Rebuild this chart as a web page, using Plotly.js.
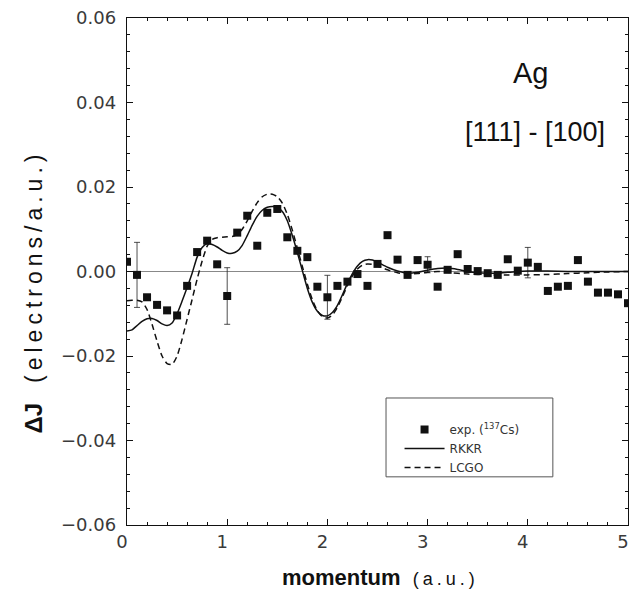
<!DOCTYPE html>
<html>
<head>
<meta charset="utf-8">
<script src="https://cdn.plot.ly/plotly-3.0.1.min.js"></script>
<style>html,body{margin:0;padding:0;background:#fff;}#chart{width:631px;height:590px;}</style>
</head>
<body>
<div id="chart"></div>
<script>
// Experimental points (momentum in a.u., ΔJ in electrons/a.u.)
var expX = [0.0,0.1,0.2,0.3,0.4,0.5,0.6,0.7,0.8,0.9,1.0,1.1,1.2,1.3,1.4,1.5,1.6,1.7,1.8,1.9,2.0,2.1,2.2,2.3,2.4,2.5,2.6,2.7,2.8,2.9,3.0,3.1,3.2,3.3,3.4,3.5,3.6,3.7,3.8,3.9,4.0,4.1,4.2,4.3,4.4,4.5,4.6,4.7,4.8,4.9,5.0];
var expY = [0.0023,-0.0008,-0.0061,-0.0079,-0.0092,-0.0104,-0.0034,0.0046,0.0073,0.0017,-0.0058,0.0092,0.0132,0.0061,0.0139,0.0148,0.0081,0.0049,0.0034,-0.0036,-0.0061,-0.0034,-0.0024,-0.0006,-0.0034,0.0018,0.0086,0.0028,-0.0008,0.0027,0.0016,-0.0036,0.0004,0.0041,0.0006,0.0001,-0.0004,-0.0008,0.0029,0.0002,0.0021,0.0011,-0.0046,-0.0036,-0.0034,0.0027,-0.0024,-0.0050,-0.0050,-0.0054,-0.0075];
// Error bars given at selected momenta
var errX = [0.1, 1.0, 2.0, 3.0, 4.0];
var errVal = [0.0077, 0.0067, 0.0052, 0.0019, 0.0036];

// RKKR theory (solid)
var rkkrX = [0.00,0.05,0.10,0.15,0.20,0.25,0.30,0.35,0.40,0.45,0.50,0.55,0.60,0.65,0.70,0.75,0.80,0.85,0.90,0.95,1.00,1.05,1.10,1.15,1.20,1.25,1.30,1.35,1.40,1.45,1.50,1.55,1.60,1.65,1.70,1.75,1.80,1.85,1.90,1.95,2.00,2.05,2.10,2.15,2.20,2.25,2.30,2.35,2.40,2.45,2.50,2.60,2.70,2.80,2.90,3.00,3.10,3.20,3.30,3.40,3.50,3.60,3.70,3.80,3.90,4.00,4.20,4.40,4.60,4.80,5.00];
var rkkrY = [-0.0141,-0.0138,-0.0128,-0.0118,-0.0112,-0.0111,-0.0116,-0.0124,-0.0128,-0.0122,-0.0100,-0.0070,-0.0038,-0.0004,0.0034,0.0057,0.0066,0.0064,0.0058,0.0050,0.0044,0.0043,0.0048,0.0062,0.0085,0.0110,0.0131,0.0145,0.0152,0.0154,0.0152,0.0142,0.0120,0.0085,0.0045,0.0002,-0.0040,-0.0073,-0.0094,-0.0104,-0.0105,-0.0097,-0.0080,-0.0055,-0.0028,-0.0005,0.0013,0.0024,0.0028,0.0027,0.0022,0.0010,0.0001,-0.0004,-0.0002,0.0003,0.0007,0.0008,0.0005,0.0000,-0.0003,-0.0004,-0.0004,-0.0002,0.0000,0.0001,0.0001,0.0000,0.0000,0.0000,0.0000];

// LCGO theory (dashed)
var lcgoX = [0.00,0.05,0.10,0.15,0.20,0.25,0.30,0.35,0.40,0.45,0.50,0.55,0.60,0.65,0.70,0.75,0.80,0.85,0.90,0.95,1.00,1.05,1.10,1.15,1.20,1.25,1.30,1.35,1.40,1.45,1.50,1.55,1.60,1.65,1.70,1.75,1.80,1.85,1.90,1.95,2.00,2.05,2.10,2.15,2.20,2.25,2.30,2.35,2.40,2.45,2.50,2.60,2.70,2.80,2.90,3.00,3.10,3.20,3.40,3.60,3.80,4.00,4.20,4.40,4.60,4.80,5.00];
var lcgoY = [-0.0069,-0.0068,-0.0068,-0.0072,-0.0090,-0.0125,-0.0165,-0.0200,-0.0218,-0.0220,-0.0200,-0.0160,-0.0113,-0.0066,-0.0018,0.0025,0.0060,0.0076,0.0080,0.0081,0.0082,0.0083,0.0088,0.0100,0.0120,0.0143,0.0163,0.0177,0.0183,0.0183,0.0177,0.0162,0.0135,0.0098,0.0055,0.0012,-0.0030,-0.0067,-0.0093,-0.0107,-0.0110,-0.0103,-0.0085,-0.0060,-0.0033,-0.0010,0.0006,0.0015,0.0018,0.0017,0.0013,0.0004,-0.0003,-0.0006,-0.0005,-0.0002,0.0000,-0.0002,-0.0006,-0.0008,-0.0008,-0.0008,-0.0007,-0.0005,-0.0003,-0.0001,0.0000];

var xTickVals = [0,1,2,3,4,5];
var yTickVals = [-0.06,-0.04,-0.02,0.00,0.02,0.04,0.06];
var yTickText = ['\u22120.06','\u22120.04','\u22120.02','0.00','0.02','0.04','0.06'];

var expErr = expX.map(function(x){
  for (var i = 0; i < errX.length; i++) { if (Math.abs(errX[i]-x) < 1e-9) return errVal[i]; }
  return null;
});

var tickFont = {family: 'DejaVu Sans, sans-serif', size: 18, color: '#3a3a3a'};

var traces = [
  {x: expX, y: expY, type: 'scatter', mode: 'markers', name: 'exp. (<sup>137</sup>Cs)',
   marker: {symbol: 'square', size: 8, color: '#111'},
   error_y: {type: 'data', array: expErr, visible: true, color: '#222', thickness: 0.8, width: 3}},
  {x: rkkrX, y: rkkrY, type: 'scatter', mode: 'lines', name: 'RKKR',
   line: {color: '#111', width: 1.5, shape: 'spline', smoothing: 0.6}},
  {x: lcgoX, y: lcgoY, type: 'scatter', mode: 'lines', name: 'LCGO',
   line: {color: '#111', width: 1.5, dash: '6px,4px', shape: 'spline', smoothing: 0.6}}
];

var layout = {
  width: 631, height: 590,
  margin: {l: 127, r: 3, t: 18, b: 65},
  paper_bgcolor: '#fff', plot_bgcolor: '#fff',
  showlegend: true,
  legend: {x: 0.544, y: 0.217, xanchor: 'left', yanchor: 'top',
           bgcolor: 'rgba(0,0,0,0)', borderwidth: 0,
           font: {family: 'DejaVu Sans, sans-serif', size: 12, color: '#333'},
           tracegroupgap: 0, itemwidth: 40},
  xaxis: {range: [0, 5], tickvals: xTickVals, ticktext: xTickVals.map(String),
          showline: true, linecolor: '#111', linewidth: 1.2, mirror: 'ticks',
          ticks: 'inside', ticklen: 6, tickwidth: 1, tickcolor: '#111',
          minor: {dtick: 0.2, ticks: 'inside', ticklen: 3, tickcolor: '#111', showgrid: false},
          showgrid: false, zeroline: false, tickfont: tickFont, ticklabelstandoff: 0,
          ticklabelshift: -5, ticklabeloverflow: 'allow'},
  yaxis: {range: [-0.06, 0.06], tickvals: yTickVals, ticktext: yTickText,
          showline: true, linecolor: '#111', linewidth: 1.2, mirror: 'ticks',
          ticks: 'inside', ticklen: 6, tickwidth: 1, tickcolor: '#111',
          minor: {dtick: 0.004, ticks: 'inside', ticklen: 3, tickcolor: '#111', showgrid: false},
          showgrid: false, zeroline: true, zerolinecolor: '#888', zerolinewidth: 1,
          tickfont: tickFont, ticklabelstandoff: 6},
  shapes: [
    {type: 'rect', xref: 'paper', yref: 'paper', x0: 0.517, x1: 0.850, y0: 0.095, y1: 0.2505,
     line: {color: '#555', width: 1}, fillcolor: 'rgba(0,0,0,0)', layer: 'above'}
  ],
  annotations: [
    {xref: 'paper', yref: 'paper', x: 0.805, y: 0.891, xanchor: 'center', yanchor: 'middle', showarrow: false,
     text: 'Ag', font: {family: 'Liberation Sans, Arial, sans-serif', size: 29, color: '#111'}},
    {xref: 'paper', yref: 'paper', x: 0.815, y: 0.776, xanchor: 'center', yanchor: 'middle', showarrow: false,
     text: '[111] - [100]', font: {family: 'Liberation Sans, Arial, sans-serif', size: 27, color: '#111'}},
    {xref: 'paper', yref: 'paper', x: 0.506, y: -0.104, xanchor: 'center', yanchor: 'middle', showarrow: false,
     text: '<b>momentum</b>  <span style="font-size:18px;letter-spacing:4px">(a.u.)</span>',
     font: {family: 'Liberation Sans, Arial, sans-serif', size: 22, color: '#111'}},
    {xref: 'paper', yref: 'paper', x: -0.186, y: 0.46, xanchor: 'center', yanchor: 'middle', showarrow: false,
     textangle: -90,
     text: '<b>\u0394J</b>   <span style="font-size:23px;letter-spacing:5px">(electrons/a.u.)</span>',
     font: {family: 'Liberation Sans, Arial, sans-serif', size: 24, color: '#111'}}
  ]
};

Plotly.newPlot('chart', traces, layout, {displayModeBar: false, staticPlot: true});
</script>
</body>
</html>
